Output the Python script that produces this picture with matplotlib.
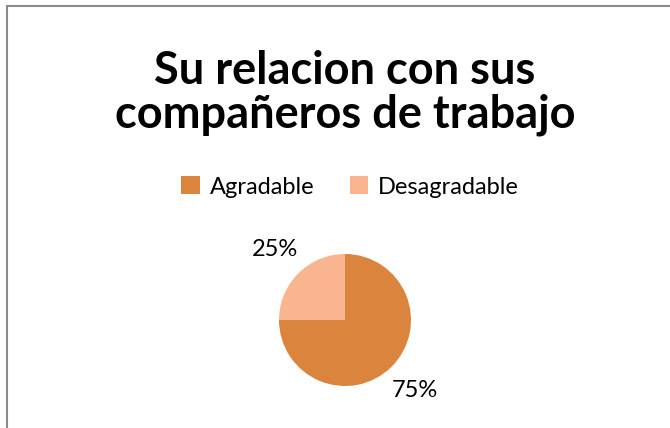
import matplotlib
matplotlib.use("Agg")
import matplotlib.pyplot as plt
from matplotlib.patches import Rectangle

# Datos
categorias = ["Agradable", "Desagradable"]
valores = [75, 25]
colores = ["#DA843E", "#F8B58F"]
titulo = "Su relacion con sus\ncompañeros de trabajo"

plt.rcParams["font.family"] = ["Lato", "DejaVu Sans"]

fig = plt.figure(figsize=(6.7, 4.28), dpi=100)

# borde del grafico (estilo Excel)
borde = Rectangle((7 / 670, -0.05), 1.2, 1 - 6 / 428 + 0.05, transform=fig.transFigure,
                  fill=False, edgecolor="#8c8c8c", linewidth=1.5, clip_on=False)
fig.patches.append(borde)

fig.text(345 / 670, 1 - 93 / 428, titulo, ha="center", va="center",
         fontsize=32.5, fontweight="bold", linespacing=1.05)

ax = fig.add_axes([(345 - 66) / 670, (428 - 320 - 66) / 428, 132 / 670, 132 / 428])
wedges, textos, pct = ax.pie(valores, colors=colores, startangle=90, counterclock=False,
                             autopct="%1.0f%%", pctdistance=1.5,
                             textprops={"fontsize": 17})
ax.set_xlim(-1, 1)
ax.set_ylim(-1, 1)
ax.set_aspect("equal")

fig.legend(wedges, categorias, loc="center", bbox_to_anchor=(350 / 670, 1 - 187 / 428),
           ncol=2, frameon=False, fontsize=17, handlelength=0.8, handleheight=0.8,
           handletextpad=0.4, columnspacing=1.5)

plt.savefig("out.png")
